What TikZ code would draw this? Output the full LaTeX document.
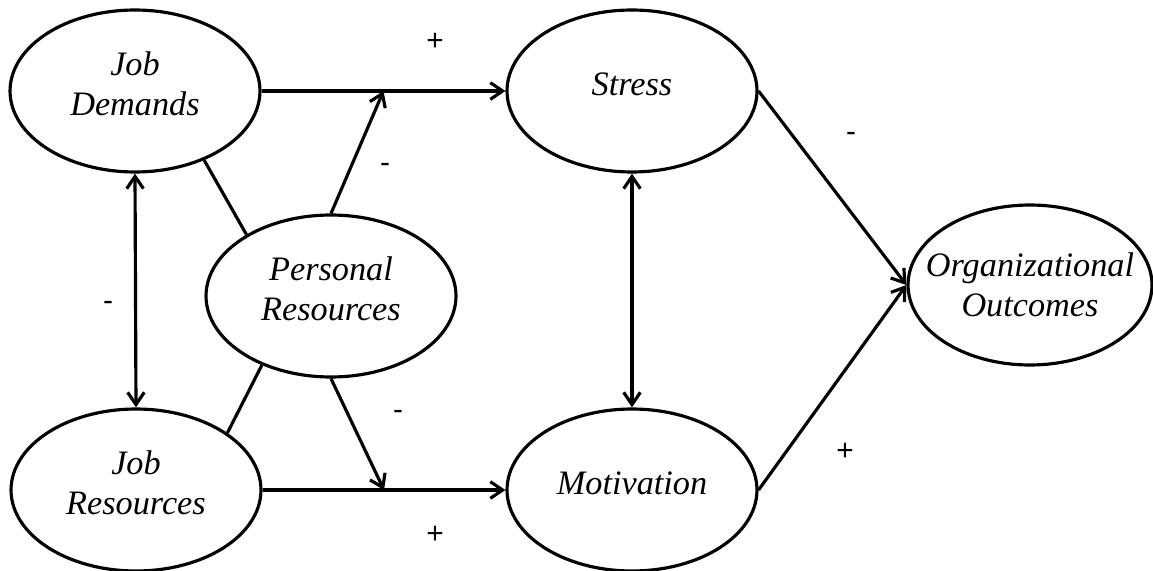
\documentclass[tikz,border=0pt]{standalone}
\usepackage{fontspec}
\setmainfont{Liberation Serif}
\newfontfamily\signfont{Liberation Sans}
\usepackage{tikz}
\usetikzlibrary{shapes.geometric,arrows.meta,calc}

\tikzset{
  construct/.style={ellipse, draw, line width=1.8pt, minimum width=5cm, minimum height=3.24cm, inner sep=0pt},
  caption/.style={align=center, font=\fontsize{19.5}{22.8}\selectfont\itshape, yshift=4pt},
  effect/.style={line width=1.8pt, -{Straight Barb[length=7pt,width=9.5pt]}},
  covary/.style={line width=1.8pt, {Straight Barb[length=7pt,width=9.5pt]}-{Straight Barb[length=7pt,width=9.5pt]}},
  link/.style={line width=1.8pt},
  sign/.style={font=\signfont\fontsize{17}{17}\selectfont}
}

\begin{document}
\begin{tikzpicture}[x=0.02cm, y=-0.02cm]
        \useasboundingbox (0,0) rectangle (1153,571);
        \node[construct, label={[caption]center:Job\\Demands}] (jd) at (135,91) {};
        \node[construct, label={[caption]center:Job\\Resources}] (jr) at (136,490) {};
        \node[construct, label={[caption]center:Personal\\Resources}] (pr) at (331,296) {};
        \node[construct, label={[caption]center:Stress}] (stress) at (632,91) {};
        \node[construct, label={[caption]center:Motivation}] (mot) at (632,490) {};
        \node[construct, minimum width=4.88cm, minimum height=3.2cm,
              label={[caption, yshift=-4pt]center:Organizational\\Outcomes}] (org) at (1030,285) {};

        \coordinate (jdmid) at ($(jd.east)!.5!(stress.west)$);
        \coordinate (jrmid) at ($(jr.east)!.5!(mot.west)$);

        \draw[effect] (jd.east)--(stress.west);
        \draw[effect] (jr.east)--(mot.west);
        \draw[effect] (pr.north)--(jdmid);
        \draw[effect] (pr.south)--(jrmid);
        \draw[link] (jd.315)--(pr.144);
        \draw[link] (jr.32)--(pr.225);
        \draw[covary] (jd.south)--(jr.north);
        \draw[covary] (stress.south)--(mot.north);
        \draw[effect] (stress.east)--(org.west);
        \draw[effect] (mot.east)--(org.west);

        \node[sign] (s1) at (435,42) {+};
        \node[sign] (s2) at (385,168) {-};
        \node[sign] (s3) at (108,306) {-};
        \node[sign] (s4) at (398,415) {-};
        \node[sign] (s5) at (435,535) {+};
        \node[sign] (s6) at (851,137) {-};
        \node[sign] (s7) at (845,452) {+};
      \end{tikzpicture}
\end{document}
